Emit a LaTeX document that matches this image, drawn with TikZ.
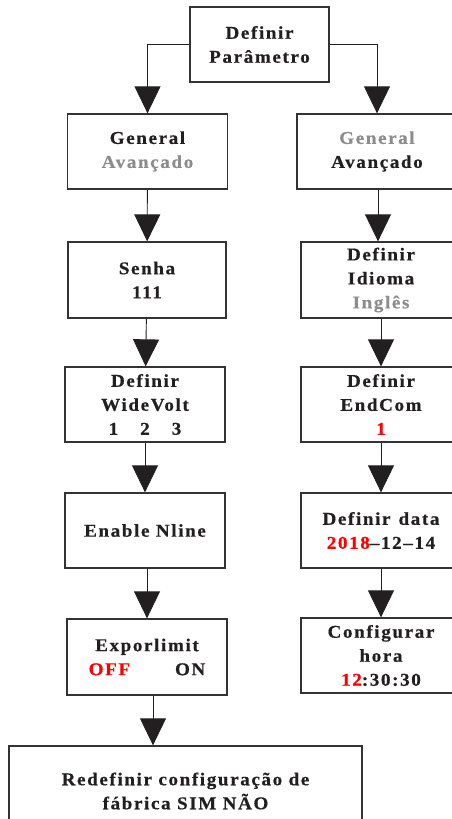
\documentclass[tikz,border=0pt]{standalone}
\usepackage{fontspec}
\setmainfont{Liberation Serif}[LetterSpace=9,FakeStretch=1.06,BoldFeatures={FakeBold=0.6}]
\usetikzlibrary{arrows.meta}
\definecolor{inkText}{HTML}{231F20}
\definecolor{boxLine}{HTML}{333333}
\definecolor{dimText}{HTML}{8C8C8C}
\definecolor{hiRed}{HTML}{FF0000}
\newcommand{\greytxt}[1]{\textcolor{dimText}{#1}}
\newcommand{\redtxt}[1]{\textcolor{hiRed}{#1}}
\tikzset{
  menubox/.style={draw=boxLine,line width=1.3pt,minimum width=160pt,minimum height=75pt,
    inner sep=1pt,align=center,text=inkText,font=\bfseries\fontsize{18}{24}\selectfont},
  flowArrow/.style={-{Triangle[length=27pt,width=26pt]},line width=0.9pt,draw=inkText}
}

\begin{document}
\begin{tikzpicture}[x=1pt,y=-1pt]
  \useasboundingbox (0,0) rectangle (452,819);
  \clip (0,0) rectangle (452,819);

  \node[menubox,minimum width=139pt] (param) at (259.5,44.5) {Definir\\Parâmetro};

  % left branch
  \node[menubox] (genL) at (147.5,151.5) {General\\\greytxt{Avançado}};
  \node[menubox,minimum width=158pt,minimum height=76pt] (senha) at (147,280) {Senha\\111};
  \node[menubox] (wide) at (145,404.5) {Definir\\WideVolt\\1\hspace{22pt}2\hspace{22pt}3};
  \node[menubox] (nline) at (145,530.5) {Enable Nline};
  \node[menubox,minimum height=76pt] (expor) at (147,657) {Exporlimit\\\redtxt{OFF}\hspace{45pt}ON};
  \node[menubox,minimum width=353pt,minimum height=90pt] (reset) at (185.5,791)
    {Redefinir configuração de\\fábrica SIM NÃO};

  % right branch
  \node[menubox] (genR) at (377,151.5) {\greytxt{General}\\Avançado};
  \node[menubox,minimum height=76pt] (idioma) at (381,280) {Definir\\Idioma\\\greytxt{Inglês}};
  \node[menubox] (endcom) at (381,404.5) {Definir\\EndCom\\\redtxt{1}};
  \node[menubox] (data) at (381,530.5) {Definir\hspace{8pt}data\\\redtxt{2018}--12--14};
  \node[menubox] (hora) at (381,655.5) {Configurar\\hora\\\redtxt{12}:30:30};

  \draw[flowArrow] (param.west) -| (genL.north);
  \draw[flowArrow] (param.east) -| (genR.north);
  \draw[flowArrow] (genL) -- (senha);
  \draw[flowArrow] (senha) -- (wide);
  \draw[flowArrow] (wide) -- (nline);
  \draw[flowArrow] ([xshift=2pt]nline.south) -- ([xshift=2pt]nline.south |- expor.north);
  \draw[flowArrow] ([xshift=6pt]expor.south) -- ([xshift=6pt]expor.south |- reset.north);
  \draw[flowArrow] ([xshift=1pt]genR.south) -- ([xshift=1pt]genR.south |- idioma.north);
  \draw[flowArrow] (idioma) -- (endcom);
  \draw[flowArrow] (endcom) -- (data);
  \draw[flowArrow] (data) -- (hora);
\end{tikzpicture}
\end{document}
